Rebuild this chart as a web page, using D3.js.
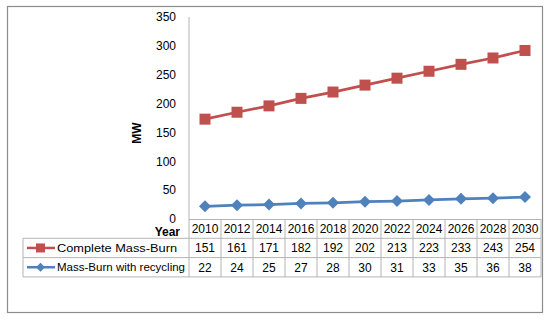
<!DOCTYPE html>
<html><head><meta charset="utf-8">
<script src="https://cdn.jsdelivr.net/npm/d3@7"></script>
<style>body{margin:0;background:#fff}svg{display:block}text{font-family:"Liberation Sans",Arial,sans-serif}</style>
</head><body><svg id="c" width="550" height="321"></svg>
<script>
const years = ["2010","2012","2014","2016","2018","2020","2022","2024","2026","2028","2030"];
const completeMassBurn = [151,161,171,182,192,202,213,223,233,243,254];
const massBurnRecycling = [22,24,25,27,28,30,31,33,35,36,38];
const yTicks = [0,50,100,150,200,250,300,350];
const seriesNames = ["Complete Mass-Burn","Mass-Burn with recycling"];
const colors = ["#C0504D","#4F81BD"];

const svg = d3.select("#c");
const L = 189, R = 541, T = 17, B = 219;
const rowH = 19.3;
const legL = 23;
const fs = 11.6;
const nfs = 12;
const grid = "#b4b4b4";

// outer border
svg.append("rect").attr("x",7.5).attr("y",6.5).attr("width",535).attr("height",306)
  .attr("fill","#fff").attr("stroke","#8c8c8c").attr("stroke-width",1.2);

const x = d3.scaleBand().domain(years).range([L,R]).padding(0);
const y = d3.scaleLinear().domain([0,350]).range([B,T]);

// y axis
const yAxis = d3.axisLeft(y).tickValues(yTicks).tickSize(0).tickPadding(13);
const gy = svg.append("g").attr("transform",`translate(${L},0)`).call(yAxis);
gy.select(".domain").remove();
gy.selectAll("text").attr("font-size",nfs).attr("fill","#000").attr("font-family","Liberation Sans, Arial, sans-serif");

// stacked values (series plotted stacked)
const stackedTop = completeMassBurn.map((v,i)=>v+massBurnRecycling[i]);

// table grid
const tableBottom = B + rowH*3;
const g = svg.append("g").attr("stroke",grid).attr("stroke-width",1).attr("fill","none");
g.append("line").attr("x1",L).attr("x2",L).attr("y1",T).attr("y2",tableBottom);
g.append("line").attr("x1",L).attr("x2",R).attr("y1",B+0.5).attr("y2",B+0.5);
g.append("line").attr("x1",legL).attr("x2",R).attr("y1",B+rowH).attr("y2",B+rowH);
g.append("line").attr("x1",legL).attr("x2",R).attr("y1",B+rowH*2).attr("y2",B+rowH*2);
g.append("line").attr("x1",legL).attr("x2",R).attr("y1",tableBottom).attr("y2",tableBottom);
g.append("line").attr("x1",legL).attr("x2",legL).attr("y1",B+rowH).attr("y2",tableBottom);
years.forEach(yr=>{
  const xr = x(yr)+x.bandwidth();
  g.append("line").attr("x1",xr).attr("x2",xr).attr("y1",B).attr("y2",tableBottom);
});

// header years
svg.append("g").selectAll("text").data(years).join("text")
  .attr("x",d=>x(d)+x.bandwidth()/2).attr("y",B+rowH/2).attr("dy","0.36em")
  .attr("text-anchor","middle").attr("font-size",nfs).text(d=>d);

// table values
[completeMassBurn, massBurnRecycling].forEach((arr,si)=>{
  svg.append("g").selectAll("text").data(arr).join("text")
    .attr("x",(d,i)=>x(years[i])+x.bandwidth()/2).attr("y",B+rowH*(si+1.5)).attr("dy","0.36em")
    .attr("text-anchor","middle").attr("font-size",nfs).text(d=>d);
  const cy = B+rowH*(si+1.5);
  svg.append("line").attr("x1",27).attr("x2",55).attr("y1",cy).attr("y2",cy)
    .attr("stroke",colors[si]).attr("stroke-width",2.5);
  if(si===0){
    svg.append("rect").attr("x",36).attr("y",cy-4.5).attr("width",9).attr("height",9).attr("fill",colors[0]);
  } else {
    svg.append("path").attr("d",`M40.5,${cy-4.5}L45,${cy}L40.5,${cy+4.5}L36,${cy}Z`).attr("fill",colors[1]);
  }
  svg.append("text").attr("x",57).attr("y",cy).attr("dy","0.36em").attr("font-size",fs)
    .attr("textLength", si===0?120:128).attr("lengthAdjust","spacingAndGlyphs").text(seriesNames[si]);
});

// axis titles
svg.append("text").attr("x",180).attr("y",B+17).attr("text-anchor","end")
  .attr("font-size",12).attr("font-weight","bold").text("Year");
svg.append("text").attr("transform","translate(141,133) rotate(-90)").attr("text-anchor","middle")
  .attr("font-size",12).attr("font-weight","bold").text("MW");

// lines
const cx = i => x(years[i])+x.bandwidth()/2;
const line = d3.line().x((d,i)=>cx(i)).y(d=>y(d));
svg.append("path").datum(stackedTop).attr("d",line).attr("fill","none")
  .attr("stroke",colors[0]).attr("stroke-width",2.75);
svg.append("path").datum(massBurnRecycling).attr("d",line).attr("fill","none")
  .attr("stroke",colors[1]).attr("stroke-width",2.75);

svg.append("g").selectAll("rect").data(stackedTop).join("rect")
  .attr("x",(d,i)=>cx(i)-5.5).attr("y",d=>y(d)-5.5).attr("width",11).attr("height",11)
  .attr("fill",colors[0]);
svg.append("g").selectAll("path").data(massBurnRecycling).join("path")
  .attr("d",(d,i)=>{const px=cx(i),py=y(d);return `M${px},${py-6}L${px+6},${py}L${px},${py+6}L${px-6},${py}Z`;})
  .attr("fill",colors[1]);
</script></body></html>
